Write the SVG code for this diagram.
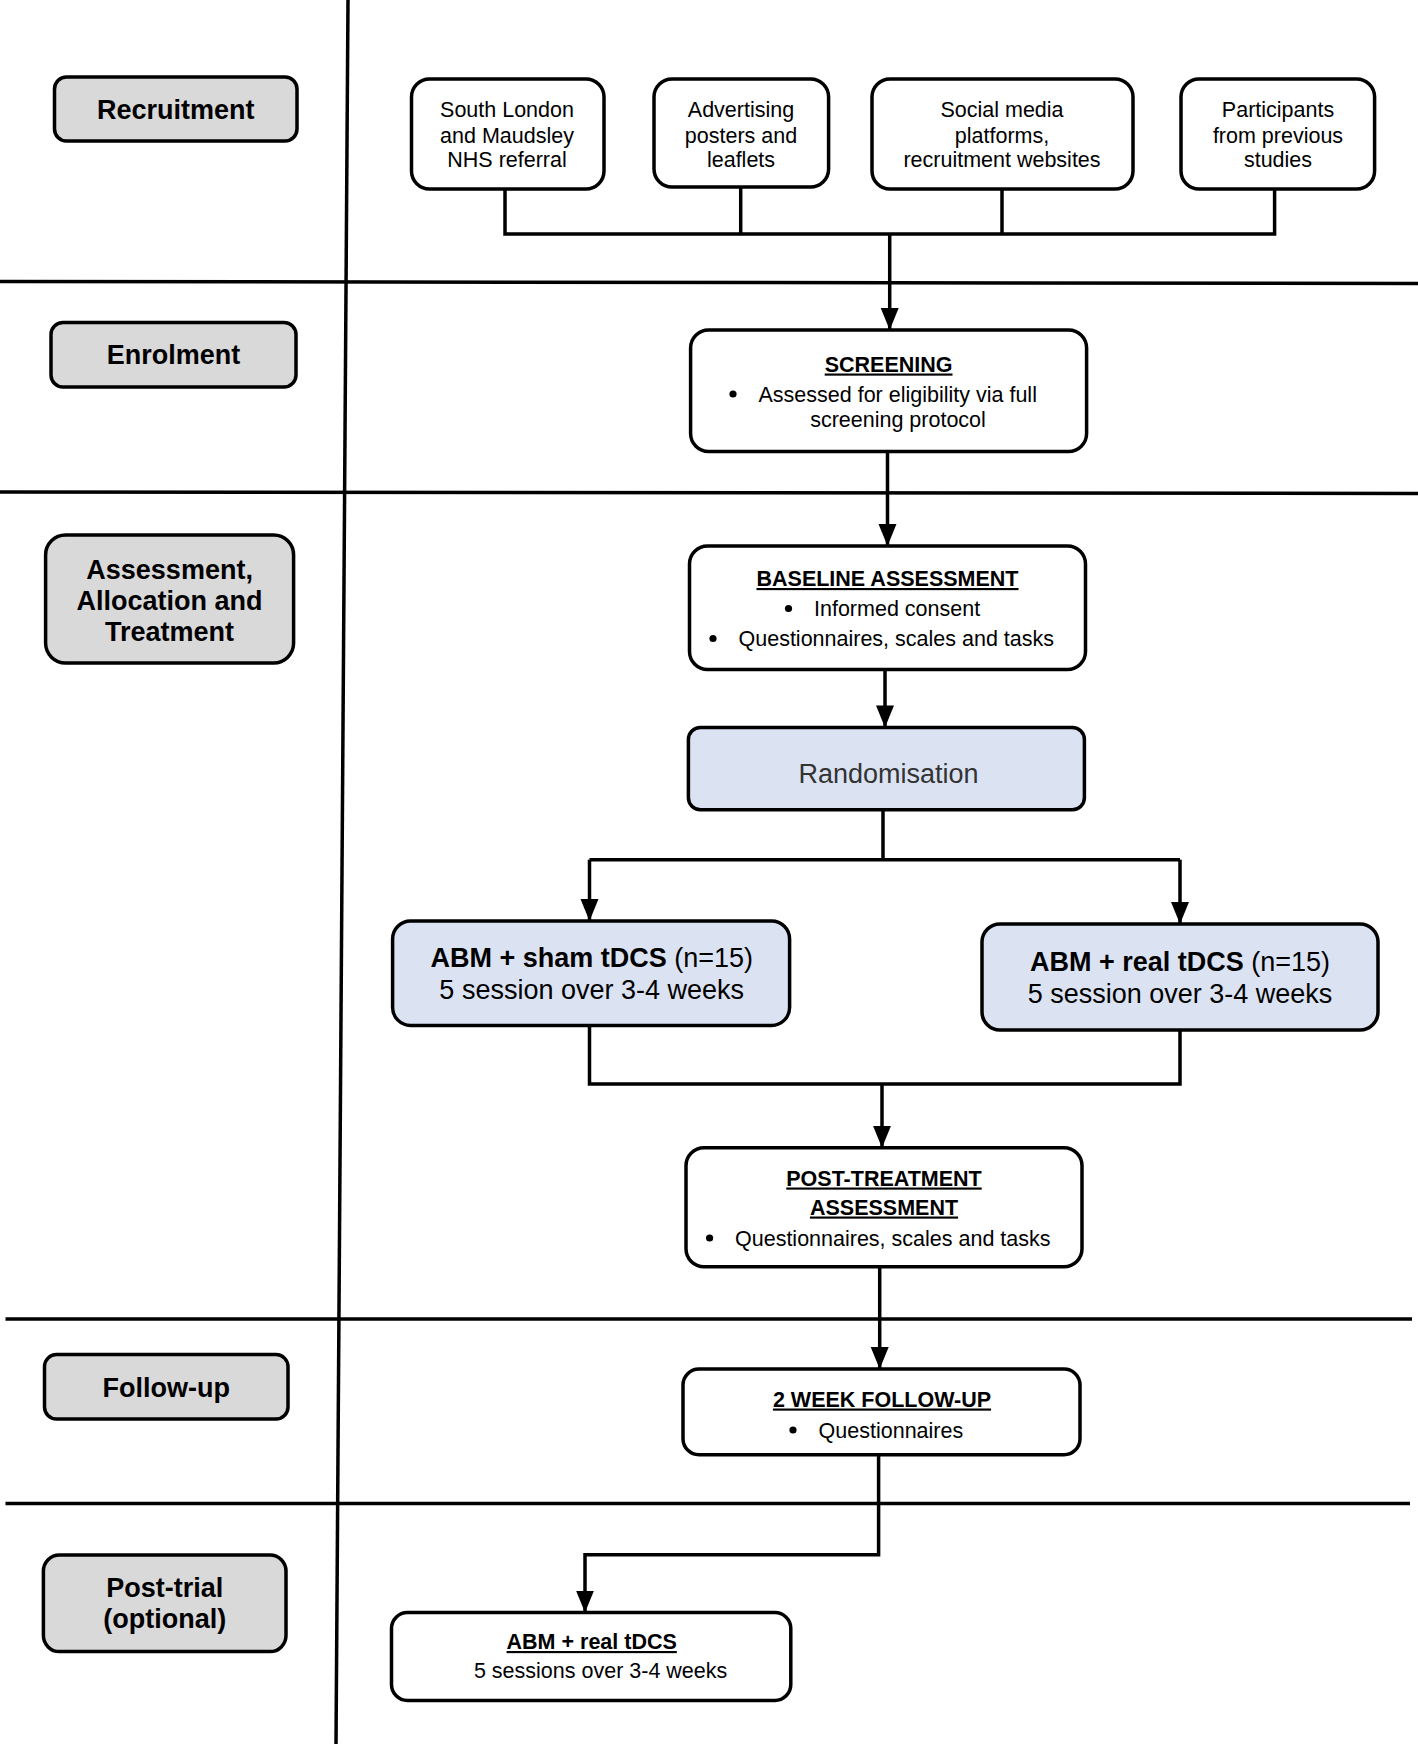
<svg xmlns="http://www.w3.org/2000/svg" width="1418" height="1744" viewBox="0 0 1418 1744">
<style>
  text { font-family: "Liberation Sans", Arial, Helvetica, sans-serif; fill: #000; }
  .lane { fill: #d9d9d9; stroke: #000; stroke-width: 3.5; }
  .box { fill: #fff; stroke: #000; stroke-width: 3.5; }
  .blue { fill: #dbe3f3; stroke: #000; stroke-width: 3.5; }
  .lbl { font-size: 27px; font-weight: bold; text-anchor: middle; }
  .t { font-size: 21.5px; text-anchor: middle; }
  .ts { font-size: 21.5px; text-anchor: start; }
  .h { font-size: 21.5px; font-weight: bold; text-anchor: middle; text-decoration: underline; }
  .big { font-size: 27px; text-anchor: middle; }
  .sep { stroke: #000; stroke-width: 3.5; fill: none; }
  .conn { stroke: #000; stroke-width: 3.5; fill: none; }
  .dot { fill: #000; }
</style>
<defs>
  <marker id="arr" markerUnits="userSpaceOnUse" markerWidth="23" markerHeight="20" viewBox="0 0 23 20" refX="22" refY="10" orient="auto">
    <path d="M0,1 L22,10 L0,19 z" fill="#000"/>
  </marker>
</defs>
<rect width="1418" height="1744" fill="#fff"/>

<g id="separators">
  <line class="sep" x1="348" y1="0" x2="336" y2="1744"/>
  <line class="sep" x1="0" y1="281.5" x2="1418" y2="283.5"/>
  <line class="sep" x1="0" y1="492" x2="1418" y2="493.5"/>
  <line class="sep" x1="5.5" y1="1319" x2="1412" y2="1319"/>
  <line class="sep" x1="5.5" y1="1503.5" x2="1410" y2="1503.5"/>
</g>

<g id="lane-recruitment">
  <rect class="lane" x="54.5" y="77" width="242.5" height="64" rx="12"/>
  <text class="lbl" x="175.7" y="118.5">Recruitment</text>
</g>
<g id="lane-enrolment">
  <rect class="lane" x="51" y="322.5" width="245" height="64.5" rx="12"/>
  <text class="lbl" x="173.5" y="364">Enrolment</text>
</g>
<g id="lane-assessment">
  <rect class="lane" x="45.6" y="535" width="248" height="128" rx="20"/>
  <text class="lbl" x="169.6" y="578.5">Assessment,</text>
  <text class="lbl" x="169.6" y="609.5">Allocation and</text>
  <text class="lbl" x="169.6" y="640.5">Treatment</text>
</g>
<g id="lane-followup">
  <rect class="lane" x="44.5" y="1354.6" width="243.5" height="64.4" rx="12"/>
  <text class="lbl" x="166.2" y="1397">Follow-up</text>
</g>
<g id="lane-posttrial">
  <rect class="lane" x="43.4" y="1555" width="242.6" height="96.6" rx="16"/>
  <text class="lbl" x="164.7" y="1597">Post-trial</text>
  <text class="lbl" x="164.7" y="1628">(optional)</text>
</g>

<g id="node-slam">
  <rect class="box" x="411.5" y="79" width="192.5" height="110" rx="18"/>
  <text class="t" x="507" y="117">South London</text>
  <text class="t" x="507" y="142.5">and Maudsley</text>
  <text class="t" x="507" y="167">NHS referral</text>
</g>
<g id="node-advertising">
  <rect class="box" x="654" y="79" width="174.6" height="108" rx="18"/>
  <text class="t" x="741" y="117">Advertising</text>
  <text class="t" x="741" y="142.5">posters and</text>
  <text class="t" x="741" y="167">leaflets</text>
</g>
<g id="node-social">
  <rect class="box" x="872" y="79" width="261" height="110" rx="18"/>
  <text class="t" x="1002" y="117">Social media</text>
  <text class="t" x="1002" y="142.5">platforms,</text>
  <text class="t" x="1002" y="167">recruitment websites</text>
</g>
<g id="node-previous">
  <rect class="box" x="1181" y="79" width="193.6" height="110" rx="18"/>
  <text class="t" x="1278" y="117">Participants</text>
  <text class="t" x="1278" y="142.5">from previous</text>
  <text class="t" x="1278" y="167">studies</text>
</g>

<g id="node-screening">
  <rect class="box" x="690.6" y="330" width="396" height="121.5" rx="18"/>
  <text class="h" x="888.6" y="371.5">SCREENING</text>
  <circle class="dot" cx="733" cy="394" r="3.6"/>
  <text class="ts" x="758.5" y="401.5">Assessed for eligibility via full</text>
  <text class="t" x="898" y="427">screening protocol</text>
</g>
<g id="node-baseline">
  <rect class="box" x="689.5" y="546" width="396" height="123.5" rx="18"/>
  <text class="h" x="887.5" y="586">BASELINE ASSESSMENT</text>
  <circle class="dot" cx="788.5" cy="608.5" r="3.6"/>
  <text class="ts" x="814" y="616">Informed consent</text>
  <circle class="dot" cx="713" cy="638.5" r="3.6"/>
  <text class="ts" x="738.5" y="646">Questionnaires, scales and tasks</text>
</g>
<g id="node-randomisation">
  <rect class="blue" x="688.4" y="727.4" width="396" height="82.3" rx="12"/>
  <text class="big" x="888.5" y="782.5" style="fill:#333">Randomisation</text>
</g>
<g id="node-sham">
  <rect class="blue" x="392.6" y="921" width="397" height="104.4" rx="18"/>
  <text class="big" x="591.7" y="967"><tspan font-weight="bold">ABM + sham tDCS</tspan> (n=15)</text>
  <text class="big" x="591.7" y="999">5 session over 3-4 weeks</text>
</g>
<g id="node-real">
  <rect class="blue" x="982" y="924" width="396" height="106" rx="18"/>
  <text class="big" x="1180" y="971"><tspan font-weight="bold">ABM + real tDCS</tspan> (n=15)</text>
  <text class="big" x="1180" y="1003">5 session over 3-4 weeks</text>
</g>
<g id="node-posttreatment">
  <rect class="box" x="686" y="1147.8" width="396" height="119" rx="18"/>
  <text class="h" x="884" y="1185.5">POST-TREATMENT</text>
  <text class="h" x="884" y="1214.5">ASSESSMENT</text>
  <circle class="dot" cx="709.6" cy="1238" r="3.6"/>
  <text class="ts" x="735" y="1245.5">Questionnaires, scales and tasks</text>
</g>
<g id="node-followup">
  <rect class="box" x="683" y="1369" width="397" height="85.7" rx="16"/>
  <text class="h" x="882" y="1406.5">2 WEEK FOLLOW-UP</text>
  <circle class="dot" cx="793" cy="1430" r="3.6"/>
  <text class="ts" x="818.6" y="1437.5">Questionnaires</text>
</g>
<g id="node-posttrial">
  <rect class="box" x="391.5" y="1612.6" width="399.3" height="87.9" rx="16"/>
  <text class="h" x="591.7" y="1649">ABM + real tDCS</text>
  <text class="t" x="600.6" y="1678">5 sessions over 3-4 weeks</text>
</g>

<g id="connectors">
  <polyline class="conn" points="505,189 505,234 1274.6,234 1274.6,189"/>
  <line class="conn" x1="740.7" y1="187" x2="740.7" y2="234"/>
  <line class="conn" x1="1002" y1="189" x2="1002" y2="234"/>
  <line class="conn" x1="889.7" y1="234" x2="889.7" y2="330" marker-end="url(#arr)"/>
  <line class="conn" x1="887.5" y1="451.5" x2="887.5" y2="546" marker-end="url(#arr)"/>
  <line class="conn" x1="885" y1="669.5" x2="885" y2="727.4" marker-end="url(#arr)"/>
  <polyline class="conn" points="883,809.7 883,859.7"/>
  <line class="conn" x1="589.5" y1="859.7" x2="1180" y2="859.7"/>
  <line class="conn" x1="589.5" y1="859.7" x2="589.5" y2="921" marker-end="url(#arr)"/>
  <line class="conn" x1="1180" y1="859.7" x2="1180" y2="924" marker-end="url(#arr)"/>
  <polyline class="conn" points="589.5,1025.4 589.5,1084 1180,1084 1180,1030"/>
  <line class="conn" x1="882" y1="1084" x2="882" y2="1147.8" marker-end="url(#arr)"/>
  <line class="conn" x1="879.7" y1="1266.8" x2="879.7" y2="1369" marker-end="url(#arr)"/>
  <polyline class="conn" points="878.6,1454.7 878.6,1554.8 585,1554.8 585,1612.6" marker-end="url(#arr)"/>
</g>
</svg>
